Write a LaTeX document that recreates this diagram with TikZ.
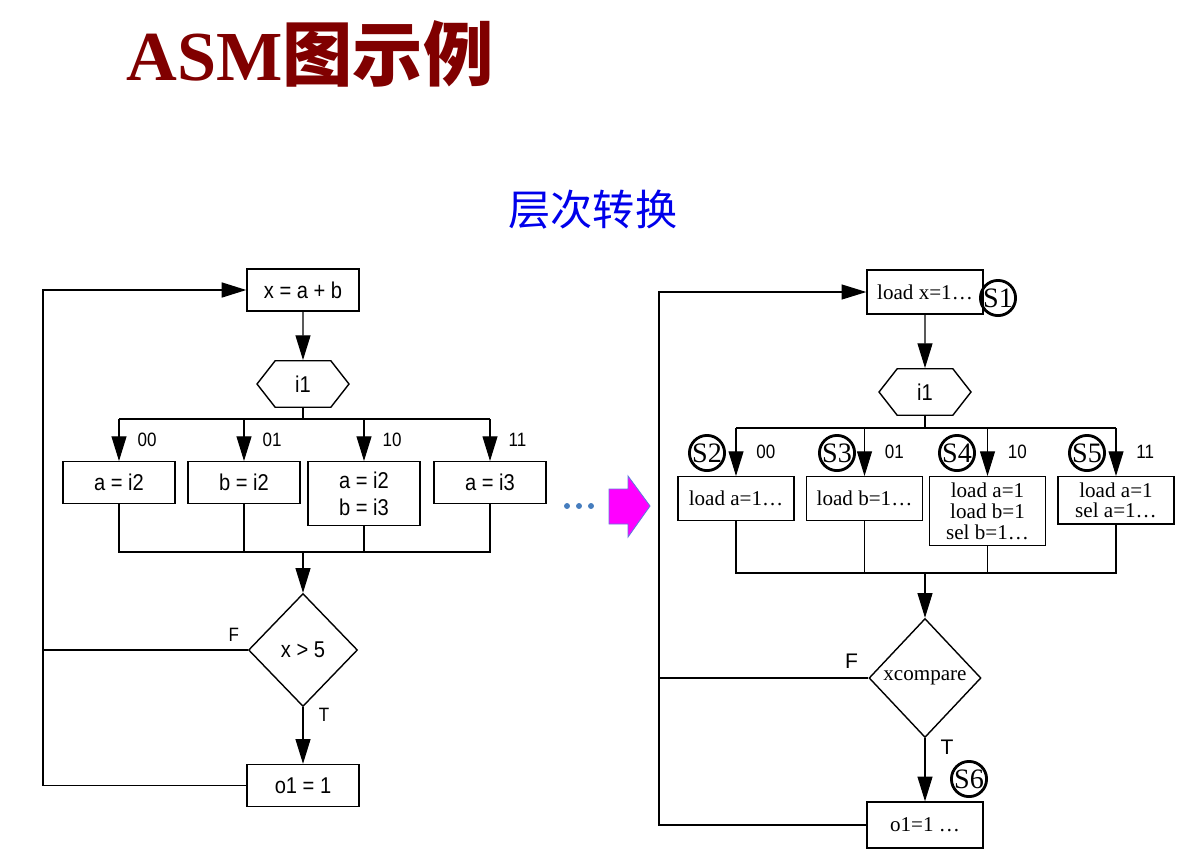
\documentclass[tikz,border=0pt]{standalone}
\usepackage{fontspec}
\setmainfont{Liberation Serif}
\setsansfont{Liberation Sans}
\newfontfamily\cjk{Noto Sans CJK SC}
\newfontfamily\narrowsf[FakeStretch=0.88]{Liberation Sans}
\usepackage{xcolor}
\usetikzlibrary{arrows.meta,shapes.geometric,shapes.symbols}
\definecolor{titlered}{RGB}{128,0,0}
\definecolor{subblue}{RGB}{0,0,235}
\definecolor{dotblue}{RGB}{70,125,190}
\definecolor{arrowfill}{RGB}{255,0,255}
\definecolor{arrowedge}{RGB}{100,120,220}

\begin{document}
\begin{tikzpicture} [>={Triangle[length=14pt,width=8.5pt]},x=0.02cm,y=-0.02cm,line width=0.6pt]
  \tikzstyle{box}=[draw,line width=0.8pt,minimum width=2.24cm,minimum height=0.84cm,font=\narrowsf\fontsize{13}{15}\selectfont,align=center]
  \tikzstyle{sbox}=[draw,line width=0.8pt,minimum width=2.32cm,minimum height=0.88cm,font=\fontsize{12}{11.8}\selectfont,align=center]
  \tikzstyle{hex}=[draw,line width=0.8pt,signal,signal to=east and west,signal pointer angle=104,minimum width=1.84cm,minimum height=0.93cm,font=\narrowsf\fontsize{13}{15}\selectfont]
  \tikzstyle{cond}=[draw,line width=0.8pt,diamond,inner sep=0pt]
  \tikzstyle{lbl}=[font=\narrowsf\fontsize{11}{13}\selectfont]
  \tikzstyle{lblR}=[font=\sffamily\fontsize{12}{14}\selectfont]
  \tikzstyle{st}=[draw,circle,line width=1.6pt,inner sep=0pt,minimum size=0.64cm,font=\fontsize{16}{16}\selectfont]
  \tikzstyle{fb}=[line width=1pt]

  \useasboundingbox (0,0) rectangle (1189,856);

  % titles
  \node[anchor=base west,inner sep=0pt,text=titlered,font=\fontsize{40}{40}\selectfont\bfseries] (title) at (126,80) {ASM{\cjk 图示例}};
  \node[anchor=base west,inner sep=0pt,text=subblue,font=\cjk\fontsize{24}{24}\selectfont] (sub) at (508,225) {层次转换};

  % left chart
  \node[box]   (xab)  at (303,290) {x = a + b};
  \node[hex]   (hexL) at (303,384) {i1};
  \coordinate  (busL) at (303,419);
  \node[box,anchor=north] (aL) at (119,461) {a = i2};
  \node[box,anchor=north] (bL) at (244,461) {b = i2};
  \node[box,anchor=north,minimum height=1.28cm] (cL) at (364,461) {a = i2\\b = i3};
  \node[box,anchor=north] (dL) at (490,461) {a = i3};
  \coordinate  (jnL)  at (303,552);
  \node[cond,minimum width=2.18cm,minimum height=2.26cm,font=\narrowsf\fontsize{13}{15}\selectfont] (cmpL) at (303,650) {x > 5};
  \node[box]   (o1L)  at (303,785.5) {o1 = 1};
  \coordinate  (fbL)  at (43,290);

  \path[->] (xab) edge (hexL);
  \draw (hexL.south) -- (busL);
  \draw (aL.north |- busL) -- (dL.north |- busL);
  \path[->] (aL.north |- busL) edge node[lbl,right=7pt] {00} (aL.north)
            (bL.north |- busL) edge node[lbl,right=7pt] {01} (bL.north)
            (cL.north |- busL) edge node[lbl,right=7pt] {10} (cL.north)
            (dL.north |- busL) edge node[lbl,right=7pt] {11} (dL.north);
  \draw (aL.south) |- (jnL) -| (dL.south);
  \draw (bL.south) -- (bL.south |- jnL);
  \draw (cL.south) -- (cL.south |- jnL);
  \draw[->] (jnL) -- (cmpL.north);
  \path[->] (cmpL) edge (o1L);
  \node[lbl] (fL) at ([xshift=-8pt,yshift=8.5pt]cmpL.west) {F};
  \node[lbl] (tL) at ([xshift=12pt,yshift=-4.5pt]cmpL.south) {T};
  \draw (cmpL.west) -- (cmpL.west -| fbL);
  \draw[fb,->] (o1L.west) -| (fbL) -- (xab.west);

  % dots and arrow between the charts
  \foreach \x in {567,579,591}
    \fill[dotblue] (\x,506) circle (1.7pt);
  \draw[arrowedge,fill=arrowfill,line width=0.5pt] (609,489) -- (628,489) -- (628,476) -- (650,506)
    -- (628,537) -- (628,524) -- (609,524) -- cycle;

  % right chart
  \node[sbox]  (ldx)  at (925,292) {load x=1…};
  \node[st]    (s1)   at (998,298) {S1};
  \node[hex]   (hexR) at (925,392) {i1};
  \coordinate  (busR) at (925,428);
  \node[sbox,anchor=north] (aR) at (736,476) {load a=1…};
  \node[sbox,anchor=north] (bR) at (864.5,476) {load b=1…};
  \node[sbox,anchor=north,minimum height=1.38cm] (cR) at (987.5,476) {load a=1\\load b=1\\sel b=1…};
  \node[sbox,anchor=north] (dR) at (1116,476) {load a=1\\sel a=1…};
  \node[st]    (s2)   at (707,453) {S2};
  \node[st]    (s3)   at (837,453) {S3};
  \node[st]    (s4)   at (957,453) {S4};
  \node[st]    (s5)   at (1087,453) {S5};
  \coordinate  (jnR)  at (925,573);
  \node[cond,minimum width=2.24cm,minimum height=2.38cm,font=\fontsize{12}{14}\selectfont] (cmpR) at (925,678) {xcompare};
  \node[st]    (s6)   at (969,779) {S6};
  \node[sbox,minimum height=0.92cm] (o1R) at (925,825) {o1=1 …};
  \coordinate  (fbR)  at (659,292);

  \path[->] (ldx) edge (hexR);
  \draw (hexR.south) -- (busR);
  \draw (aR.north |- busR) -- (dR.north |- busR);
  \path[->] (aR.north |- busR) edge node[lbl,right=8pt] {00} (aR.north)
            (bR.north |- busR) edge node[lbl,right=8pt] {01} (bR.north)
            (cR.north |- busR) edge node[lbl,right=8pt] {10} (cR.north)
            (dR.north |- busR) edge node[lbl,right=8pt] {11} (dR.north);
  \draw (aR.south) |- (jnR) -| (dR.south);
  \draw (bR.south) -- (bR.south |- jnR);
  \draw (cR.south) -- (cR.south |- jnR);
  \draw[->] (jnR) -- (cmpR.north);
  \path[->] (cmpR) edge (o1R);
  \node[lblR] (fR) at ([xshift=-9.6pt,yshift=9.6pt]cmpR.west) {F};
  \node[lblR] (tR) at ([xshift=12.5pt,yshift=-5pt]cmpR.south) {T};
  \draw (cmpR.west) -- (cmpR.west -| fbR);
  \draw[->] (o1R.west) -| (fbR) -- (ldx.west);
\end{tikzpicture}
\end{document}
